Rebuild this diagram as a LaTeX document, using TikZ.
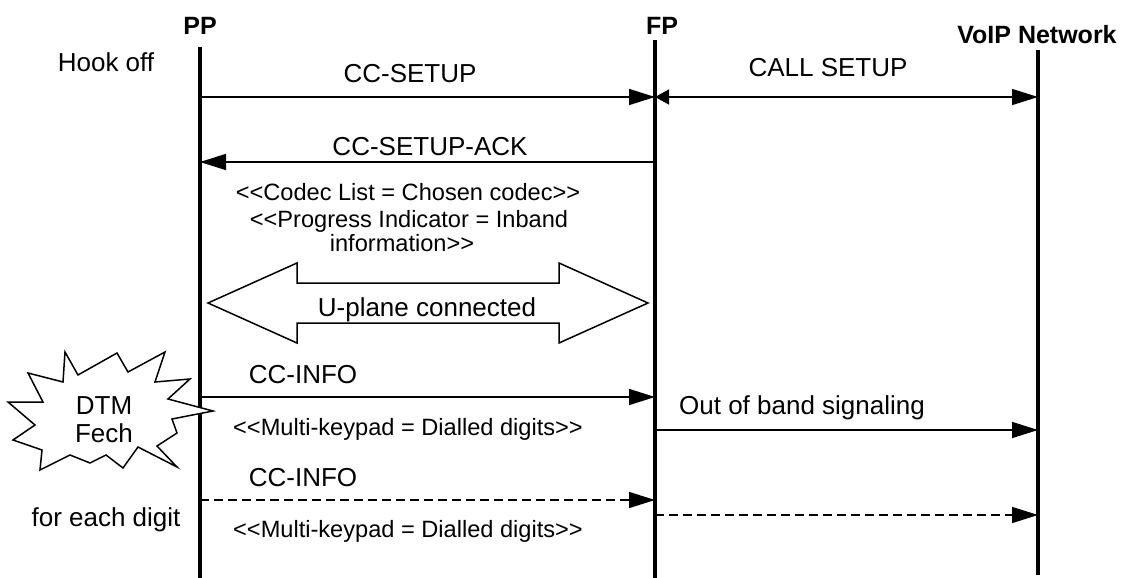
\documentclass[tikz,border=0pt]{standalone}
\usepackage{fontspec}
\setmainfont{Liberation Sans}
\usetikzlibrary{arrows.meta}
\newcommand\lltxt{\mbox{<}\mbox{<}}
\newcommand\ggtxt{\mbox{>}\mbox{>}}
\begin{document}
\begin{tikzpicture}[x=1pt,y=-1pt,
  big/.style={font=\fontsize{26}{30}\selectfont, inner sep=0pt, anchor=base},
  small/.style={font=\fontsize{23.6}{26}\selectfont, inner sep=0pt, anchor=base},
  head/.style={font=\bfseries\fontsize{25}{30}\selectfont, inner sep=0pt, anchor=base},
  life/.style={line width=4pt},
  msg/.style={line width=1.5pt, -{Triangle[length=26pt,width=16pt]}},
  dmsg/.style={msg, dash pattern=on 9pt off 5pt},
  outl/.style={line width=1.5pt, line join=miter},
]
\useasboundingbox (0,0) rectangle (1125,578);

% headings
\node[head] (hPP) at (200,35) {PP};
\node[head] (hFP) at (662,35) {FP};
\node[head] (hV) at (1037,44) {VoIP Network};

% lifelines
\coordinate (ppT) at (200,47); \coordinate (ppB) at (200,578);
\coordinate (fpT) at (655,40); \coordinate (fpB) at (655,578);
\coordinate (vT) at (1038,50); \coordinate (vB) at (1038,575);
\draw[life] (ppT) -- (ppB);
\draw[life] (fpT) -- (fpB);
\draw[life] (vT) -- (vB);

% side texts
\node[big] (hook) at (106,72) {Hook off};
\node[big] (each) at (106,526) {for each digit};

% CC-SETUP
\coordinate (a1) at (200,97); \coordinate (b1) at (655,97); \coordinate (c1) at (1038,97);
\node[big] (l1) at (410,83) {CC-SETUP};
\draw[msg] (a1) -- (b1);
\node[big] (l2) at (828,77) {CALL SETUP};
\draw[line width=1.5pt, {Triangle[length=14pt,width=15pt]}-{Triangle[length=26pt,width=16pt]}] (b1) -- (c1);

% CC-SETUP-ACK
\coordinate (a2) at (200,162); \coordinate (b2) at (655,162);
\node[big] (l3) at (430,155) {CC-SETUP-ACK};
\draw[msg] (b2) -- (a2);
\node[small] (t1) at (408,200) {\lltxt Codec List = Chosen codec\ggtxt};
\node[small] (t2) at (409,227) {\lltxt Progress Indicator = Inband};
\node[small] (t3) at (402,251) {information\ggtxt};

% U-plane connected
\draw[outl] (208,303) -- (297,263) -- (297,283) -- (559,283) -- (559,263) -- (648,303)
  -- (559,343) -- (559,323) -- (297,323) -- (297,343) -- cycle;
\node[big] (up) at (427,316) {U-plane connected};

% CC-INFO
\coordinate (a3) at (200,397); \coordinate (b3) at (655,397);
\node[big] (l4) at (303,383) {CC-INFO};
\draw[msg] (a3) -- (b3);
\node[small] (t4) at (408,435) {\lltxt Multi-keypad = Dialled digits\ggtxt};
\coordinate (b4) at (655,430); \coordinate (c4) at (1038,430);
\node[big] (l5) at (802,414) {Out of band signaling};
\draw[msg] (b4) -- (c4);

% starburst
\draw[outl, fill=white] (65,352) -- (78,375) -- (117,353) -- (128,372) -- (165,352) -- (155,382)
  -- (190,379) -- (168,399) -- (213,411) -- (172,419) -- (177,433) -- (157,446) -- (177,467)
  -- (138,447) -- (123,468) -- (106,455) -- (90,463) -- (70,455) -- (40,470) -- (42,450)
  -- (13,440) -- (35,425) -- (8,402) -- (43,402) -- (28,373) -- (63,382) -- cycle;
\node[big] (dtm) at (104,414) {DTM};
\node[big] (fech) at (104,442) {Fech};

% dashed CC-INFO
\coordinate (a5) at (200,500); \coordinate (b5) at (655,500);
\node[big] (l6) at (303,486) {CC-INFO};
\draw[dmsg] (a5) -- (b5);
\node[small] (t5) at (408,537) {\lltxt Multi-keypad = Dialled digits\ggtxt};
\coordinate (b6) at (655,515); \coordinate (c6) at (1038,515);
\draw[dmsg] (b6) -- (c6);
\end{tikzpicture}
\end{document}
